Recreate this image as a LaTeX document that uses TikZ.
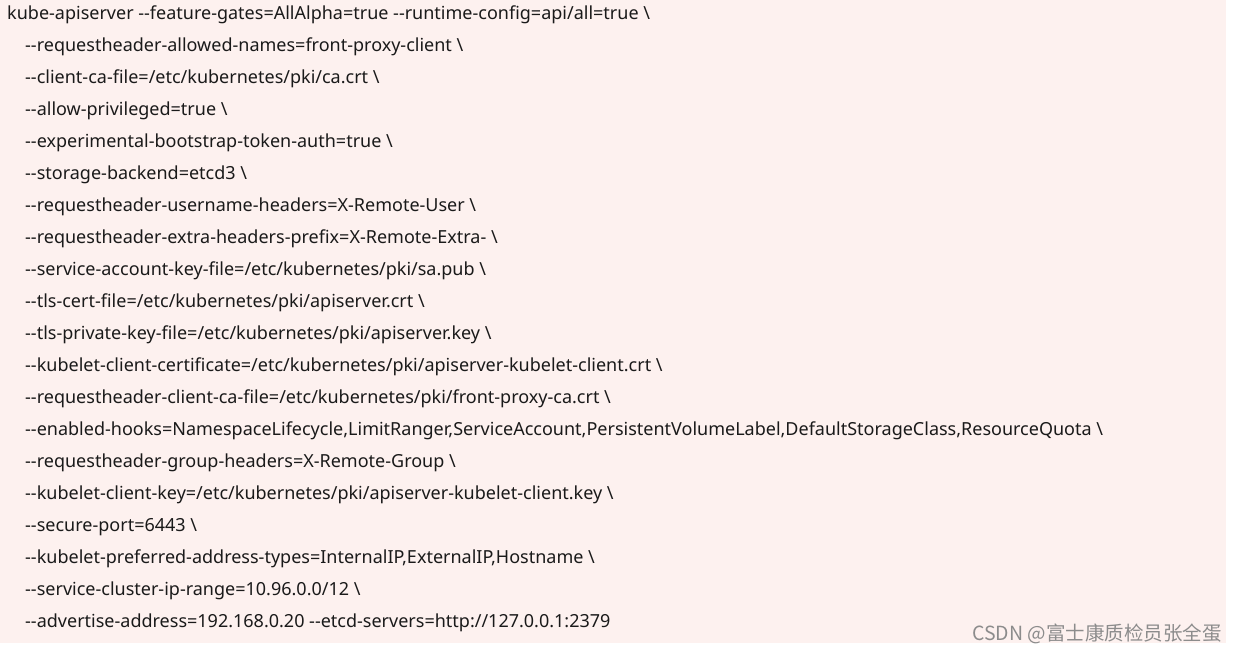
\documentclass[tikz,border=0pt]{standalone}
\usepackage{fontspec}
\setmainfont{Noto Sans}
\newfontfamily\cjk{Noto Sans CJK SC}
\definecolor{bgpink}{HTML}{FDF1EF}
\definecolor{txt}{HTML}{1A1A1A}
\tikzset{codeline/.style={anchor=west,inner sep=0pt,text=txt,font=\fontsize{18}{20}\selectfont}}
\begin{document}
\begin{tikzpicture}[x=1pt,y=-1pt]
\useasboundingbox (0,0) rectangle (1237,654);
\fill[bgpink] (0,0) rectangle (1226,643);
\node[codeline] (l1) at (7,15) {kube-apiserver -{}-feature-gates=AllAlpha=true -{}-runtime-config=api/all=true \textbackslash};
\foreach \t [count=\i] in {
{-{}-requestheader-allowed-names=front-proxy-client \textbackslash},
{-{}-client-ca-file=/etc/kubernetes/pki/ca.crt \textbackslash},
{-{}-allow-privileged=true \textbackslash},
{-{}-experimental-bootstrap-token-auth=true \textbackslash},
{-{}-storage-backend=etcd3 \textbackslash},
{-{}-requestheader-username-headers=X-Remote-User \textbackslash},
{-{}-requestheader-extra-headers-prefix=X-Remote-Extra- \textbackslash},
{-{}-service-account-key-file=/etc/kubernetes/pki/sa.pub \textbackslash},
{-{}-tls-cert-file=/etc/kubernetes/pki/apiserver.crt \textbackslash},
{-{}-tls-private-key-file=/etc/kubernetes/pki/apiserver.key \textbackslash},
{-{}-kubelet-client-certificate=/etc/kubernetes/pki/apiserver-kubelet-client.crt \textbackslash},
{-{}-requestheader-client-ca-file=/etc/kubernetes/pki/front-proxy-ca.crt \textbackslash},
{-{}-enabled-hooks=NamespaceLifecycle,LimitRanger,ServiceAccount,PersistentVolumeLabel,DefaultStorageClass,ResourceQuota \textbackslash},
{-{}-requestheader-group-headers=X-Remote-Group \textbackslash},
{-{}-kubelet-client-key=/etc/kubernetes/pki/apiserver-kubelet-client.key \textbackslash},
{-{}-secure-port=6443 \textbackslash},
{-{}-kubelet-preferred-address-types=InternalIP,ExternalIP,Hostname \textbackslash},
{-{}-service-cluster-ip-range=10.96.0.0/12 \textbackslash},
{-{}-advertise-address=192.168.0.20 -{}-etcd-servers=http://127.0.0.1:2379}}
  \node[codeline] (line\i) at (25,{15+32*\i}) {\t};
\node[anchor=east,inner sep=0pt,text=black!45,font=\cjk\fontsize{19.5}{21}\selectfont] (wm) at (1222,634) {CSDN @富士康质检员张全蛋};
\end{tikzpicture}
\end{document}
